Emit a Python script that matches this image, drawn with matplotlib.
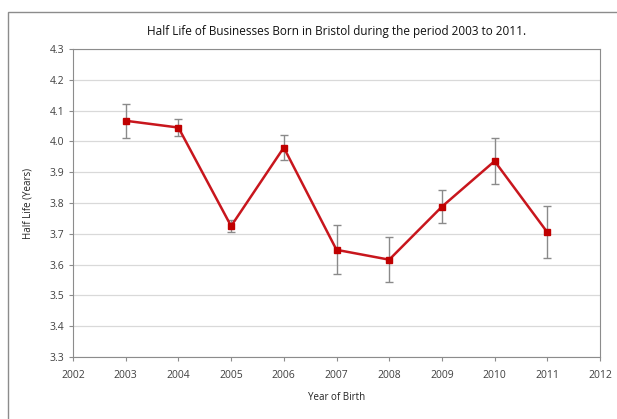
import matplotlib
matplotlib.use("Agg")
import matplotlib.pyplot as plt
from matplotlib.patches import Rectangle

years = [2003, 2004, 2005, 2006, 2007, 2008, 2009, 2010, 2011]
half_life = [4.067, 4.045, 3.725, 3.98, 3.648, 3.616, 3.788, 3.936, 3.705]
err = [0.056, 0.027, 0.02, 0.04, 0.08, 0.074, 0.053, 0.075, 0.085]
x_ticks = list(range(2002, 2013))
y_ticks = [3.3, 3.4, 3.5, 3.6, 3.7, 3.8, 3.9, 4.0, 4.1, 4.2, 4.3]

plt.rcParams['font.family'] = ['Open Sans', 'DejaVu Sans']

fig = plt.figure(figsize=(6.17, 4.19), dpi=100)
fig.patches.append(Rectangle((8/617, -0.1), 1.2, 1 - 12/419 + 0.1, transform=fig.transFigure,
                             fill=False, edgecolor='#8c8c8c', linewidth=1.0))
ax = fig.add_axes([73/617, 1 - 357/419, (600 - 73)/617, (357 - 49)/419])

ax.errorbar(years, half_life, yerr=err, fmt='none', ecolor='#8a8a8a', elinewidth=1.0,
            capsize=3, capthick=1.0, zorder=2)
ax.plot(years, half_life, color='#c8161d', linewidth=1.8, marker='s', markersize=5,
        markerfacecolor='#c00000', markeredgecolor='#c00000', zorder=3)

ax.set_xlim(2002, 2012)
ax.set_ylim(3.3, 4.3)
ax.set_xticks(x_ticks)
ax.set_yticks(y_ticks)
ax.set_yticklabels(['%.1f' % v for v in y_ticks])
ax.grid(axis='y', color='#d9d9d9', linewidth=0.9)
ax.set_axisbelow(True)
for s in ax.spines.values():
    s.set_color('#8c8c8c')
ax.tick_params(colors='#8c8c8c', labelcolor='#404040', labelsize=7.5, length=3, width=0.8)
ax.tick_params(axis='x', pad=6)

ax.set_title('Half Life of Businesses Born in Bristol during the period 2003 to 2011.',
             fontsize=8.5, color='#111111', pad=10)
ax.set_xlabel('Year of Birth', fontsize=7, color='#222222', labelpad=8)
ax.set_ylabel('Half Life (Years)', fontsize=7, color='#222222', labelpad=11)

fig.savefig('out.png', dpi=100)
